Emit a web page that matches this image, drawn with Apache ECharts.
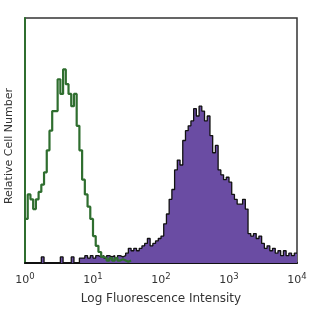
<!DOCTYPE html>
<html><head><meta charset="utf-8">
<script src="https://cdn.jsdelivr.net/npm/echarts@6/dist/echarts.min.js"></script>
<style>html,body{margin:0;padding:0;background:#fff}#c{width:312px;height:312px}</style>
</head><body><div id="c"></div>
<script>
// Bin width in log10 units; bin i starts at i*binWidth
const binWidth = 0.04;
const tickLabels = ['0','1','2','3','4'];
const xTitle = 'Log Fluorescence Intensity';
const yTitle = 'Relative Cell Number';
// Control (green, open) histogram counts
const controlCounts = [18,28,26,22,26,29,32,37,46,54,62,62,75,69,79,73,69,64,69,56,46,34,28,23,18,11,7,4.5,2.5,2,1,2,1,2,1,1.5,1,0.5,1];
// Stained (purple, filled) histogram counts
const stainedCounts = [0,0,0,0,0,0,2.5,0,0,0,0,0,0,2.5,0,0,0,2.5,0,0,2,2,3,2,3,2,3,2.5,3,2,3,2.5,3,2,3,2.5,3,4,6,5,6,5,6,7,8,10,7,8,9,10,11,16,20,26,30,38,42,40,50,54,56,58,63,60,64,62,58,60,52,45,48,38,36,34,35,33,28,26,24,24,26,22,12,11,12,10,11,8,6,7,5,6,4,5,3,5,3,4,3,4];

function toSteps(counts){
  const pts = counts.map((v,i)=>[i*binWidth, v]);
  pts.push([counts.length*binWidth, counts[counts.length-1]]);
  return pts;
}
const chart = echarts.init(document.getElementById('c'));
const font = 'DejaVu Sans';
chart.setOption({
  animation:false,
  grid:{left:25,right:15,top:18,bottom:49,show:true,borderColor:'#333',borderWidth:1.5,backgroundColor:'transparent'},
  graphic:[{type:'text',left:4,top:88,rotation:Math.PI/2,
    style:{text:yTitle,fill:'#333',font:'11px "DejaVu Sans"'}}],
  xAxis:{type:'value',min:0,max:4,interval:1,
    axisLine:{show:true,lineStyle:{color:'#111',width:2}},
    axisTick:{show:false},splitLine:{show:false},
    axisLabel:{margin:9,color:'#333',fontFamily:font,fontSize:11,
      formatter:(v)=>'10{s|'+tickLabels[Math.round(v)]+'}',
      rich:{s:{fontSize:8.5,fontFamily:font,color:'#333',padding:[0,0,8,0]}}},
    name:xTitle,nameLocation:'middle',nameGap:30,
    nameTextStyle:{color:'#333',fontFamily:font,fontSize:12}},
  yAxis:{type:'value',min:0,max:100,
    axisLine:{show:true,lineStyle:{color:'#2f6e2f',width:2}},
    axisTick:{show:false},axisLabel:{show:false},splitLine:{show:false}},
  series:[
    {type:'line',data:toSteps(stainedCounts),step:'end',symbol:'none',z:2,
     lineStyle:{color:'#111',width:1.3},areaStyle:{color:'#6a4ca3',opacity:1}},
    {type:'line',data:toSteps(controlCounts),step:'end',symbol:'none',z:3,
     lineStyle:{color:'#2f6e2f',width:2.2}}
  ]
});
</script></body></html>
